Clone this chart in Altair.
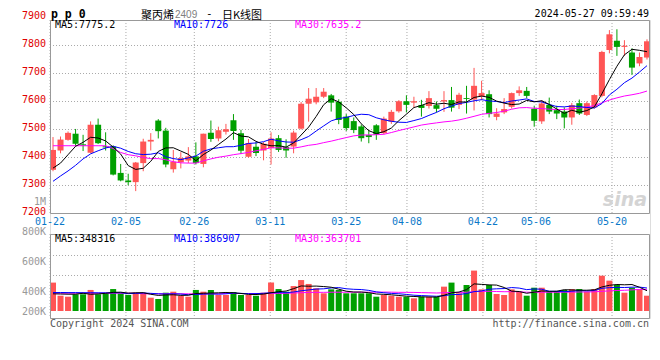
import altair as alt
import pandas as pd

# ---------------- data ----------------
dates = ["01-22", "01-23", "01-24", "01-25", "01-26", "01-29", "01-30", "01-31",
         "02-01", "02-02", "02-05", "02-06", "02-07", "02-08",
         "02-19", "02-20", "02-21", "02-22", "02-23", "02-26", "02-27", "02-28", "02-29",
         "03-01", "03-04", "03-05", "03-06", "03-07", "03-08", "03-11", "03-12", "03-13",
         "03-14", "03-15", "03-18", "03-19", "03-20", "03-21", "03-22", "03-25", "03-26",
         "03-27", "03-28", "03-29", "04-01", "04-02", "04-03", "04-08", "04-09", "04-10",
         "04-11", "04-12", "04-15", "04-16", "04-17", "04-18", "04-19", "04-22", "04-23",
         "04-24", "04-25", "04-26", "04-29", "04-30", "05-06", "05-07", "05-08", "05-09",
         "05-10", "05-13", "05-14", "05-15", "05-16", "05-17", "05-20", "05-21", "05-22",
         "05-23", "05-24", "05-27"]

opens = [7356, 7425, 7463, 7485, 7447, 7417, 7517, 7440, 7439, 7345,
         7318, 7312, 7380, 7457, 7532, 7496, 7358, 7383, 7389, 7404,
         7377, 7488, 7468, 7492, 7533, 7487, 7403, 7438, 7425, 7434,
         7469, 7437, 7439, 7503, 7592, 7597, 7617, 7622, 7599, 7546,
         7530, 7511, 7480, 7515, 7487, 7528, 7565, 7601, 7596, 7587,
         7584, 7587, 7600, 7605, 7588, 7612, 7607, 7619, 7626, 7545,
         7561, 7581, 7630, 7638, 7574, 7529, 7588, 7569, 7564, 7543,
         7594, 7552, 7579, 7620, 7784, 7817, 7795, 7775, 7736, 7757]
highs = [7473, 7475, 7493, 7502, 7481, 7529, 7539, 7490, 7443, 7377,
         7342, 7384, 7467, 7487, 7537, 7506, 7427, 7419, 7437, 7454,
         7485, 7532, 7510, 7520, 7555, 7499, 7466, 7455, 7455, 7490,
         7480, 7465, 7496, 7598, 7648, 7648, 7648, 7627, 7608, 7555,
         7543, 7518, 7499, 7519, 7546, 7570, 7605, 7622, 7617, 7606,
         7637, 7600, 7637, 7652, 7631, 7656, 7720, 7674, 7640, 7576,
         7612, 7632, 7654, 7652, 7585, 7605, 7614, 7585, 7579, 7595,
         7607, 7600, 7626, 7781, 7855, 7858, 7819, 7790, 7775, 7822]
lows = [7351, 7415, 7460, 7440, 7423, 7415, 7448, 7425, 7336, 7315,
        7301, 7280, 7351, 7425, 7468, 7365, 7346, 7361, 7380, 7375,
        7365, 7456, 7458, 7482, 7463, 7412, 7400, 7405, 7390, 7375,
        7420, 7399, 7415, 7500, 7528, 7590, 7612, 7564, 7519, 7495,
        7487, 7457, 7451, 7463, 7483, 7520, 7560, 7561, 7578, 7546,
        7575, 7561, 7563, 7564, 7573, 7557, 7568, 7605, 7543, 7533,
        7555, 7575, 7620, 7612, 7510, 7520, 7555, 7537, 7504, 7517,
        7552, 7548, 7575, 7615, 7772, 7763, 7763, 7695, 7726, 7750]
closes = [7427, 7464, 7488, 7449, 7443, 7517, 7451, 7436, 7339, 7318,
          7312, 7382, 7457, 7463, 7494, 7375, 7385, 7398, 7404, 7380,
          7485, 7466, 7497, 7501, 7495, 7424, 7452, 7416, 7449, 7468,
          7427, 7425, 7489, 7592, 7610, 7617, 7635, 7596, 7534, 7505,
          7498, 7469, 7473, 7482, 7539, 7563, 7601, 7588, 7601, 7577,
          7612, 7574, 7605, 7578, 7624, 7609, 7656, 7630, 7555, 7557,
          7573, 7630, 7640, 7620, 7531, 7593, 7564, 7557, 7543, 7587,
          7557, 7594, 7623, 7777, 7840, 7795, 7799, 7721, 7759, 7815]
volumes_k = [456, 353, 343, 367, 367, 407, 367, 377, 413, 377,
             360, 383, 383, 333, 320, 383, 393, 350, 343, 407,
             393, 407, 360, 360, 390, 360, 360, 353, 383, 456,
             413, 393, 433, 473, 447, 418, 377, 411, 407, 377,
             377, 377, 377, 343, 360, 353, 343, 343, 327, 343,
             343, 343, 429, 456, 377, 440, 536, 411, 440, 370,
             360, 411, 393, 353, 422, 422, 393, 400, 407, 413,
             413, 393, 413, 502, 469, 440, 383, 422, 411, 353]

# moving-average values at the left edge (history before the window)
ma5_head = [7362, 7380, 7410, 7440]
ma10_head = [7315, 7334, 7352, 7372, 7395, 7413, 7424, 7434, 7440]
ma30_head = [7442, 7442, 7442, 7442, 7442, 7442, 7442, 7442, 7432, 7418,
             7410, 7406, 7400, 7396, 7396, 7392, 7385, 7381, 7380, 7380,
             7388, 7395, 7401, 7405, 7410, 7414, 7418, 7424, 7429]
vma5_head = [372, 370, 368, 368]
vma10_head = [385, 385, 384, 384, 383, 383, 382, 382, 382]
vma30_head = [378, 378, 378, 378, 378, 378, 378, 378, 378, 378,
              378, 378, 372, 372, 372, 372, 372, 372, 372, 372,
              372, 372, 372, 375, 375, 375, 375, 375, 376]

x_tick_labels = ["01-22", "02-05", "02-26", "03-11", "03-25", "04-08", "04-22", "05-06", "05-20"]
price_ticks = [7200, 7300, 7400, 7500, 7600, 7700, 7800, 7900]
price_grid = [7300, 7400, 7500, 7600, 7700, 7800]
vol_ticks = [200000, 400000, 600000, 800000, 1000000]
vol_tick_labels = ["200K", "400K", "600K", "800K", "1M"]

price_legend = ["MA5:7775.2", "MA10:7726", "MA30:7635.2"]
vol_legend = ["MA5:348316", "MA10:386907", "MA30:363701"]
title_code = "p p 0"
title_name = "聚丙烯"
title_contract = "2409"
title_kind = "日K线图"
timestamp = "2024-05-27 09:59:49"
copyright_text = "Copyright 2024 SINA.COM"
url_text = "http://finance.sina.com.cn"

assert len(dates) == len(opens) == len(highs) == len(lows) == len(closes) == len(volumes_k) == 80


def moving_average(values, window, head):
    s = pd.Series(values, dtype=float).rolling(window).mean()
    s.iloc[:window - 1] = head
    return s.round(2).tolist()


volumes = [v * 1000 for v in volumes_k]
df = pd.DataFrame({
    "i": list(range(len(dates))),
    "date": dates,
    "open": opens, "high": highs, "low": lows, "close": closes,
    "vol": volumes,
    "dir": ["up" if c >= o else "down" for o, c in zip(opens, closes)],
    "ma5": moving_average(closes, 5, ma5_head),
    "ma10": moving_average(closes, 10, ma10_head),
    "ma30": moving_average(closes, 30, ma30_head),
    "vma5": moving_average(volumes, 5, [v * 1000 for v in vma5_head]),
    "vma10": moving_average(volumes, 10, [v * 1000 for v in vma10_head]),
    "vma30": moving_average(volumes, 30, [v * 1000 for v in vma30_head]),
})

ticks_df = pd.DataFrame({"i": [dates.index(t) for t in x_tick_labels], "t": x_tick_labels})
pticks_df = pd.DataFrame({"p": price_ticks, "t": [str(p) for p in price_ticks]})
pgrid_df = pd.DataFrame({"p": price_grid})
vticks_df = pd.DataFrame({"v": vol_ticks, "t": vol_tick_labels})
ONE = pd.DataFrame({"k": [0]})

# ---------------- styling ----------------
W, H = 600, 298
UP, DOWN = "#ff5555", "#00a000"
GRID, FRAME = "#aaaaaa", "#999999"
MONO = "DejaVu Sans Mono"
CJK = "Noto Sans CJK SC"
RED_LBL, BLUE_LBL, GRAY_LBL = "#e00000", "#0a78c8", "#999999"

band = alt.Scale(type="band", paddingInner=0.2, paddingOuter=0, align=0)
xb = alt.X("i:O", scale=band, axis=None)
xm = alt.X("i:O", scale=band, axis=None, bandPosition=0.5)
col = alt.Color("dir:N", scale=alt.Scale(domain=["up", "down"], range=[UP, DOWN]), legend=None)
yps = alt.Scale(domain=[7200, 7900], range=[193.5, -2.5], zero=False, nice=False)
yvs = alt.Scale(domain=[200000, 400000, 1000000], range=[291, 271, 181], zero=False, nice=False)
lin = alt.Scale(domain=[0, len(dates) - 1], range=[0, W], zero=False, nice=False)

# ---------------- x labels and vertical grid ----------------
tb = alt.Chart(ticks_df)
vgrid_p = tb.mark_rule(color=GRID, strokeDash=[1, 2], strokeWidth=1).encode(
    x=alt.X("i:Q", scale=lin, axis=None), y=alt.value(0), y2=alt.value(193))
vgrid_v = tb.mark_rule(color=GRID, strokeDash=[1, 2], strokeWidth=1).encode(
    x=alt.X("i:Q", scale=lin, axis=None), y=alt.value(214), y2=alt.value(298))
xlabels = tb.mark_text(font=MONO, fontSize=10, color=BLUE_LBL, align="center",
                       baseline="alphabetic").encode(
    x=alt.X("i:Q", scale=lin, axis=None), y=alt.value(204.5), text="t:N")
label_group = alt.layer(vgrid_p, vgrid_v, xlabels)

# ---------------- price panel ----------------
pb = alt.Chart(df)
pgrid = alt.Chart(pgrid_df).mark_rule(color=GRID, strokeDash=[1, 2], strokeWidth=1).encode(
    y=alt.Y("p:Q", scale=yps, axis=None), x=alt.value(0), x2=alt.value(W))
plabels = alt.Chart(pticks_df).mark_text(font=MONO, fontSize=10, color=RED_LBL, align="right",
                                         baseline="middle", dy=-1.5).encode(
    y=alt.Y("p:Q", scale=yps, axis=None), x=alt.value(-4), text="t:N")
wick = pb.mark_rule(strokeWidth=1).encode(
    x=xm, y=alt.Y("low:Q", scale=yps, axis=None), y2="high:Q", color=col)
body = pb.mark_bar().encode(
    x=xb, y=alt.Y("open:Q", scale=yps, axis=None), y2="close:Q", color=col)
ma30 = pb.mark_line(color="#ff00ff", strokeWidth=1).encode(x=xm, y=alt.Y("ma30:Q", scale=yps, axis=None))
ma10 = pb.mark_line(color="#0000ff", strokeWidth=1).encode(x=xm, y=alt.Y("ma10:Q", scale=yps, axis=None))
ma5 = pb.mark_line(color="#000000", strokeWidth=1).encode(x=xm, y=alt.Y("ma5:Q", scale=yps, axis=None))
price_group = alt.layer(pgrid, plabels, wick, body, ma30, ma10, ma5)

# ---------------- volume panel ----------------
vlabels = alt.Chart(vticks_df).mark_text(font=MONO, fontSize=10, color=GRAY_LBL, align="right",
                                         baseline="middle", dy=0.5).encode(
    y=alt.Y("v:Q", scale=yvs, axis=None), x=alt.value(-4), text="t:N")
vbars = pb.mark_bar().encode(
    x=xb, y=alt.Y("vol:Q", scale=yvs, axis=None), y2=alt.Y2Datum(vol_ticks[0]), color=col)
vma30 = pb.mark_line(color="#ff00ff", strokeWidth=1).encode(x=xm, y=alt.Y("vma30:Q", scale=yvs, axis=None))
vma10 = pb.mark_line(color="#0000ff", strokeWidth=1).encode(x=xm, y=alt.Y("vma10:Q", scale=yvs, axis=None))
vma5 = pb.mark_line(color="#000000", strokeWidth=1).encode(x=xm, y=alt.Y("vma5:Q", scale=yvs, axis=None))
vol_group = alt.layer(vlabels, vbars, vma30, vma10, vma5)

# ---------------- decorations ----------------
oc = alt.Chart(ONE)
vgrid_h = [oc.mark_rule(color=GRID, strokeDash=[1, 2], strokeWidth=1).encode(
    x=alt.value(0), x2=alt.value(W), y=alt.value(yy)) for yy in (235.5, 255.5)]
frames = [
    oc.mark_rect(fill="transparent", stroke=FRAME, strokeWidth=1).encode(
        x=alt.value(0.5), x2=alt.value(599.5), y=alt.value(0.5), y2=alt.value(193.5)),
    oc.mark_rect(fill="transparent", stroke=FRAME, strokeWidth=1).encode(
        x=alt.value(0.5), x2=alt.value(599.5), y=alt.value(214.5), y2=alt.value(298.5)),
]


def text(s, x, y, color="#000000", size=10, font=MONO, align="left", weight="normal", style="normal"):
    return oc.mark_text(text=s, align=align, baseline="alphabetic", font=font, fontSize=size,
                        fontWeight=weight, fontStyle=style, color=color).encode(
        x=alt.value(x), y=alt.value(y))


texts = [
    text("sina", 597, 186, color="#d4d4d4", size=19, font="DejaVu Sans", align="right",
         weight="bold", style="italic"),
    text(title_code, 1, -2.5, size=11.5, weight="bold"),
    text(title_name, 91, -1.5, size=11, font=CJK),
    text(title_contract, 125, -2.5, color="#808080", size=10, font="Liberation Sans"),
    text("-", 156, -3, size=11),
    text(title_kind, 172, -1.5, size=11, font=CJK),
    text(timestamp, 599, -3, align="right"),
    text(price_legend[0], 5, 8),
    text(price_legend[1], 124, 8, color="#0000ff"),
    text(price_legend[2], 245, 8, color="#ff00ff"),
    text(vol_legend[0], 5, 221.5),
    text(vol_legend[1], 124, 221.5, color="#0000ff"),
    text(vol_legend[2], 245, 221.5, color="#ff00ff"),
    text(copyright_text, 0, 306.5, color="#555555"),
    text(url_text, 599, 306.5, color="#555555", align="right"),
]

chart = alt.layer(
    *vgrid_h, label_group, price_group, vol_group, *frames, *texts
).resolve_scale(x="independent", y="independent").properties(
    width=W, height=H,
    autosize=alt.AutoSizeParams(type="none"),
    padding={"left": 42, "top": 12, "right": 2, "bottom": 24},
).configure_view(strokeWidth=0).configure(background="white")

chart.save("out.html", embed_options={"renderer": "svg", "actions": False})
